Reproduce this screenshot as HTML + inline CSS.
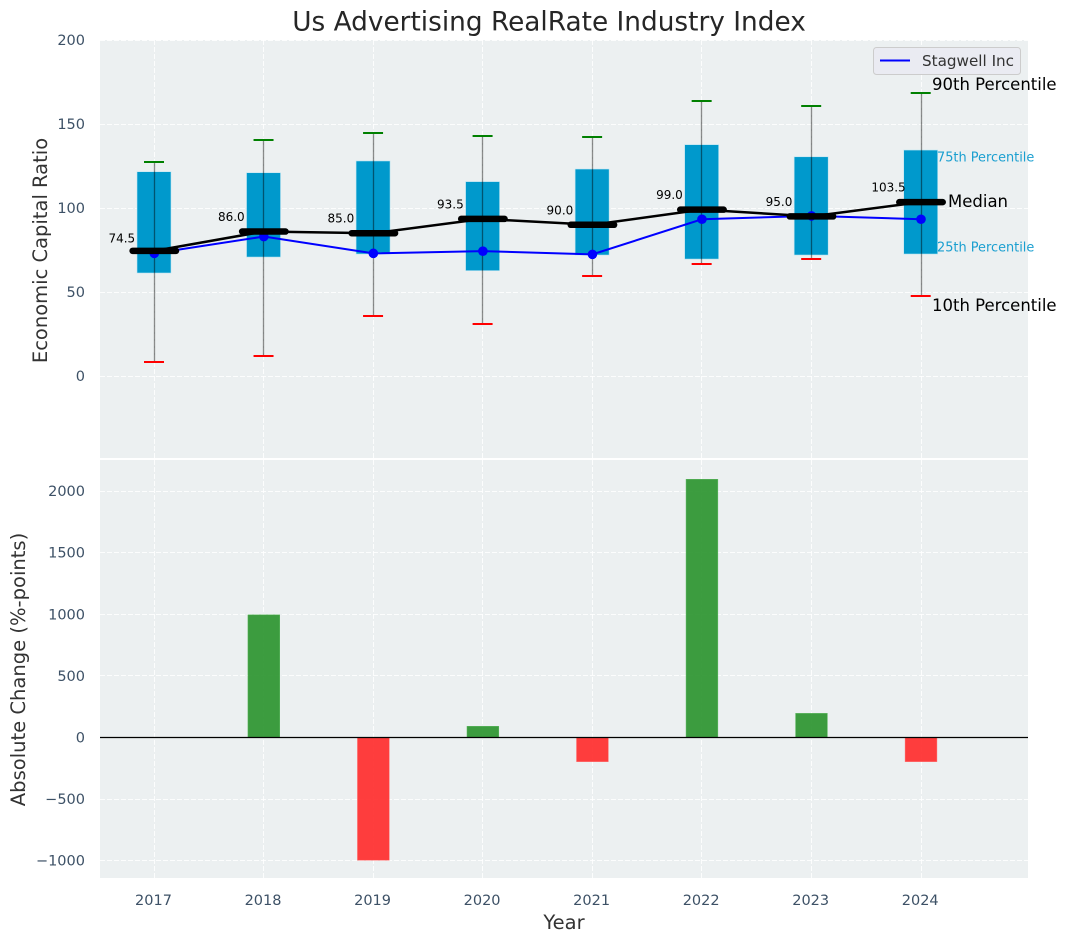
<!DOCTYPE html>
<html lang="en">
<head>
<meta charset="utf-8">
<title>Us Advertising RealRate Industry Index</title>
<style>
html,body{margin:0;padding:0;background:#fff;}
svg{display:block;font-family:"DejaVu Sans","Liberation Sans",sans-serif;}
</style>
</head>
<body>
<svg id="chart" xmlns="http://www.w3.org/2000/svg" width="1067" height="942" viewBox="0 0 1067 942">
  <rect x="0" y="0" width="1067" height="942" fill="#ffffff"/>
  <rect x="100" y="40" width="928" height="418" fill="#ecf0f1"/>
  <rect x="100" y="460" width="928" height="418" fill="#ecf0f1"/>
  <g id="grid"></g>
  <g id="top-marks"></g>
  <g id="bottom-marks"></g>
  <g id="ticks"></g>
  <text x="549" y="30.5" text-anchor="middle" font-size="26.35" fill="#262626">Us Advertising RealRate Industry Index</text>
  <text transform="translate(47,250.5) rotate(-90)" text-anchor="middle" font-size="19.5" fill="#333333">Economic Capital Ratio</text>
  <text transform="translate(25,669.5) rotate(-90)" text-anchor="middle" font-size="19.55" fill="#333333">Absolute Change (%-points)</text>
  <text x="564" y="929" text-anchor="middle" font-size="19.5" fill="#333333">Year</text>
  <g>
    <rect x="873.5" y="47.5" width="147" height="27" rx="3" fill="#eaeaf2" fill-opacity="0.9" stroke="#cccccc"/>
    <line x1="880" y1="60.5" x2="910" y2="60.5" stroke="#0000ff" stroke-width="2"/>
    <text x="922" y="66" font-size="15.2" fill="#333333">Stagwell Inc</text>
  </g>
  <g>
    <text x="932" y="90" font-size="16.5" fill="#000000">90th Percentile</text>
    <text x="937" y="161.5" font-size="12.9" fill="#1a9fd0">75th Percentile</text>
    <text x="948" y="207" font-size="16.5" fill="#000000">Median</text>
    <text x="937" y="251.5" font-size="12.9" fill="#1a9fd0">25th Percentile</text>
    <text x="932" y="311" font-size="16.5" fill="#000000">10th Percentile</text>
  </g>
</svg>
<script>
const years = [2017, 2018, 2019, 2020, 2021, 2022, 2023, 2024];
const p90 = [127.4, 140.5, 144.8, 143, 142.5, 163.9, 160.9, 168.6];
const p75 = [121.6, 121, 128, 115.7, 123.2, 137.7, 130.5, 134.5];
const medians = [74.5, 86, 85, 93.5, 90, 99, 95, 103.5];
const p25 = [61.3, 70.8, 72.6, 62.7, 72, 69.6, 72, 72.6];
const p10 = [8.5, 12, 35.9, 31, 59.7, 66.8, 69.6, 47.8];
const stagwell = [73, 83, 73, 74.3, 72.4, 93.3, 95.3, 93.3];
const changes = [0, 1000, -1000, 95, -200, 2100, 200, -200];
const topTicks = [0, 50, 100, 150, 200];
const bottomTicks = [-1000, -500, 0, 500, 1000, 1500, 2000];

const NS = 'http://www.w3.org/2000/svg';
const xScale = function (year) { return 154.3 + (year - 2017) * 109.53; };
const yTop = function (v) { return 376 - v * 1.68; };
const yBottom = function (v) { return 737.5 - v * 0.1232; };
const snap = function (p) { return Math.floor(p) + 0.5; };

function make(tag, attrs, parent) {
  const node = document.createElementNS(NS, tag);
  Object.keys(attrs).forEach(function (k) { node.setAttribute(k, attrs[k]); });
  parent.appendChild(node);
  return node;
}
const grid = document.getElementById('grid');
const top_ = document.getElementById('top-marks');
const bottom = document.getElementById('bottom-marks');
const ticks = document.getElementById('ticks');

years.forEach(function (yr) {
  const x = xScale(yr);
  const g1 = make('line', {x1: snap(x), x2: snap(x), y1: 40, y2: 458, stroke: '#ffffff', 'stroke-width': 1, 'stroke-dasharray': '5 2', 'stroke-opacity': 0.85}, grid);
  
  
  const g2 = make('line', {x1: snap(x), x2: snap(x), y1: 460, y2: 878, stroke: '#ffffff', 'stroke-width': 1, 'stroke-dasharray': '5 2', 'stroke-opacity': 0.85}, grid);
  
  
  const t = make('text', {x: x - 0.8, y: 905, 'text-anchor': 'middle', 'font-size': 14.5, fill: '#3d5166'}, ticks);
  t.textContent = String(yr);
  
  
});

topTicks.forEach(function (v) {
  const y = yTop(v);
  const l = make('line', {x1: 100, x2: 1028, y1: snap(y), y2: snap(y), stroke: '#ffffff', 'stroke-width': 1, 'stroke-dasharray': '5 2', 'stroke-opacity': 0.85}, grid);
  
  
  const t = make('text', {x: 85, y: y + 5, 'text-anchor': 'end', 'font-size': 14.5, fill: '#3d5166'}, ticks);
  t.textContent = String(v);
  
  
});

bottomTicks.forEach(function (v) {
  const y = yBottom(v);
  const l = make('line', {x1: 100, x2: 1028, y1: snap(y), y2: snap(y), stroke: '#ffffff', 'stroke-width': 1, 'stroke-dasharray': '5 2', 'stroke-opacity': 0.85}, grid);
  
  
  const t = make('text', {x: 85, y: y + 5, 'text-anchor': 'end', 'font-size': 14.5, fill: '#3d5166'}, ticks);
  t.textContent = String(v).replace('-', '\u2212');
  
  
});

/* interquartile boxes */
years.forEach(function (yr, i) {
  const x = xScale(yr);
  const box = make('rect', {x: x - 17.3, y: yTop(p75[i]), width: 34, height: yTop(p25[i]) - yTop(p75[i]), fill: '#0099cc', stroke: '#bfe6f2', 'stroke-width': 0.6}, top_);
  
  
});

/* whiskers and caps */
years.forEach(function (yr, i) {
  const x = xScale(yr);
  const w = make('line', {x1: snap(x), x2: snap(x), y1: yTop(p90[i]), y2: yTop(p10[i]), stroke: '#000000', 'stroke-opacity': 0.45, 'stroke-width': 1.3}, top_);
  
  
  const hi = make('line', {x1: x - 10.3, x2: x + 9.7, y1: Math.round(yTop(p90[i])), y2: Math.round(yTop(p90[i])), stroke: '#008000', 'stroke-width': 2}, top_);
  
  
  const lo = make('line', {x1: x - 10.3, x2: x + 9.7, y1: Math.round(yTop(p10[i])), y2: Math.round(yTop(p10[i])), stroke: '#ff0000', 'stroke-width': 2}, top_);
  
  
});

/* company line with markers */
const stagwellPts = years.map(function (yr, i) { return xScale(yr) + ',' + yTop(stagwell[i]); }).join(' ');
const blue = make('polyline', {points: stagwellPts, fill: 'none', stroke: '#0000ff', 'stroke-width': 2}, top_);


years.forEach(function (yr, i) {
  const c = make('circle', {cx: xScale(yr), cy: yTop(stagwell[i]), r: 4.8, fill: '#0000ff'}, top_);
  
  
});

/* median line and thick median bars */
const medianPts = years.map(function (yr, i) { return xScale(yr) + ',' + yTop(medians[i]); }).join(' ');
const black = make('polyline', {points: medianPts, fill: 'none', stroke: '#000000', 'stroke-width': 2.5}, top_);


years.forEach(function (yr, i) {
  const x = xScale(yr);
  const y = yTop(medians[i]);
  const m = make('line', {x1: x - 21.7, x2: x + 21.7, y1: y, y2: y, stroke: '#000000', 'stroke-width': 6.5, 'stroke-linecap': 'round'}, top_);
  
  
  const t = make('text', {x: x - 32.5, y: i === 0 ? y - 8.3 : y - 10.5, 'text-anchor': 'middle', 'font-size': 12, fill: '#000000'}, top_);
  t.textContent = medians[i].toFixed(1);
  
  
});

/* change bars */
changes.forEach(function (v, i) {
  const x = xScale(years[i]);
  const y0 = yBottom(0);
  const y1 = yBottom(v);
  const b = make('rect', {x: x - 15.9, y: Math.min(y0, y1) + (v > 0 ? 0.5 : 0), width: 31.8, height: Math.abs(y1 - y0) - (v !== 0 ? 0.5 : 0), fill: v >= 0 ? '#2e9632' : '#ff2f2f', 'fill-opacity': 0.93, stroke: v >= 0 ? '#5cb85f' : '#ff6a6a', 'stroke-width': 0.5}, bottom);
  
  
});
const zero = make('line', {x1: 100, x2: 1028, y1: yBottom(0), y2: yBottom(0), stroke: '#000000', 'stroke-width': 1.2}, bottom);


</script>
</body>
</html>
